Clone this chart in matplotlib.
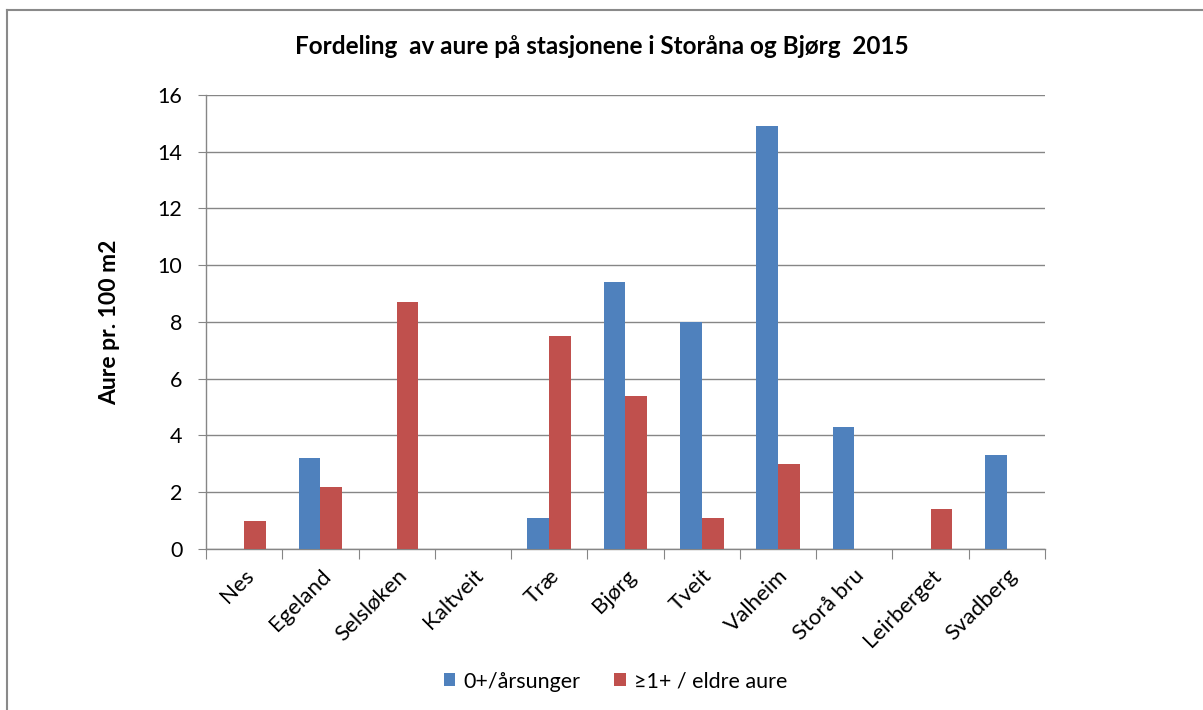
import numpy as np
import matplotlib.pyplot as plt
from matplotlib.lines import Line2D

stations = ["Nes", "Egeland", "Selsløken", "Kaltveit", "Træ", "Bjørg",
            "Tveit", "Valheim", "Storå bru", "Leirberget", "Svadberg"]
yearlings = [0, 3.2, 0, 0, 1.1, 9.4, 8.0, 14.9, 4.3, 0, 3.3]
older = [1.0, 2.2, 8.7, 0, 7.5, 5.4, 1.1, 3.0, 0, 1.4, 0]
series_names = ["0+/årsunger", "≥1+ / eldre aure"]

plt.rcParams['font.family'] = ['Lato', 'DejaVu Sans']

fig = plt.figure(figsize=(12.03, 7.10), dpi=100)
ax = fig.add_axes([0.1712, 0.2268, 0.6975, 0.6394])

x = np.arange(len(stations))
w = 0.286
ax.bar(x - w / 2, yearlings, w, color='#4F81BD', label=series_names[0], zorder=3)
ax.bar(x + w / 2, older, w, color='#C0504D', label=series_names[1], zorder=3)

ax.set_xlim(-0.5, len(stations) - 0.5)
ax.set_ylim(0, 16)
ax.set_yticks(np.arange(0, 17, 2))
ax.yaxis.grid(True, color='#868686', linewidth=1, zorder=0)

grey = '#868686'
for s in ['top', 'right']:
    ax.spines[s].set_visible(False)
for s in ['left', 'bottom']:
    ax.spines[s].set_color(grey)
    ax.spines[s].set_linewidth(1)

ax.set_xticks(np.arange(-0.5, len(stations), 1.0))
ax.set_xticklabels([])
ax.set_xticks(x, minor=True)
ax.set_xticklabels(stations, minor=True, rotation=45, ha='right',
                   rotation_mode='anchor', fontsize=16)
ax.tick_params(axis='x', which='major', length=7, color=grey, direction='out')
ax.tick_params(axis='x', which='minor', length=0, pad=12)
ax.tick_params(axis='y', length=6, color=grey, labelsize=15.5, pad=11)

ax.set_ylabel("Aure pr. 100 m2", fontsize=16.5, fontweight='bold', labelpad=27)
fig.text(0.5, 0.934, "Fordeling  av aure på stasjonene i Storåna og Bjørg  2015",
         ha='center', va='center', fontsize=17.5, fontweight='bold')

ax.legend(loc='center', bbox_to_anchor=(0.488, -0.292), ncol=2,
          frameon=False, fontsize=15.5, handlelength=0.55, handleheight=0.55,
          columnspacing=1.6, handletextpad=0.35)

# outer chart border
fig.add_artist(Line2D([7 / 1203, 1], [1 - 9.5 / 710] * 2, color='#8a8a8a',
                      linewidth=1.5, transform=fig.transFigure))
fig.add_artist(Line2D([7 / 1203] * 2, [0, 1 - 9.5 / 710], color='#8a8a8a',
                      linewidth=1.5, transform=fig.transFigure))

fig.savefig("out.png", dpi=100)
